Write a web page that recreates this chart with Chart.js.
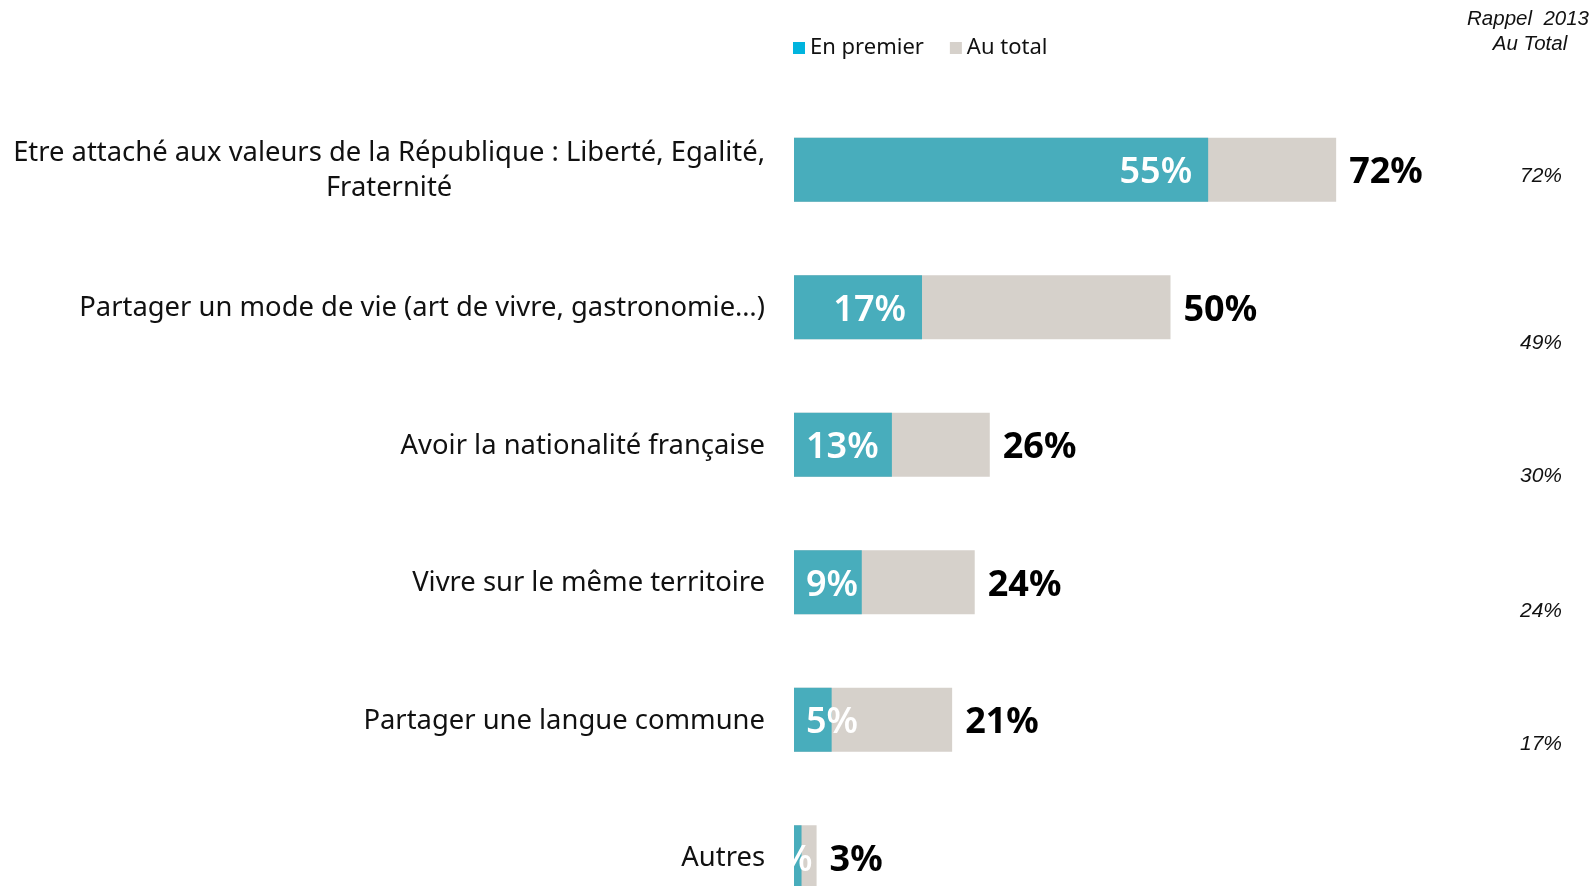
<!DOCTYPE html>
<html>
<head>
<meta charset="utf-8">
<title>Valeurs communes</title>
<script src="https://cdn.jsdelivr.net/npm/chart.js@4.4.1/dist/chart.umd.min.js"></script>
<style>
  html, body { margin: 0; padding: 0; background: #fff; overflow: hidden; }
  #wrap { position: relative; width: 1596px; height: 940px; }
</style>
</head>
<body>
<div id="wrap"><canvas id="chart"></canvas></div>
<script>
'use strict';
// data
var categories = [
  ['Etre attaché aux valeurs de la République : Liberté, Egalité,', 'Fraternité'],
  'Partager un mode de vie (art de vivre, gastronomie…)',
  'Avoir la nationalité française',
  'Vivre sur le même territoire',
  'Partager une langue commune',
  'Autres'
];
var enPremier = [55, 17, 13, 9, 5, 1];
var auTotal = [72, 50, 26, 24, 21, 3];
var rappel2013 = [72, 49, 30, 24, 17, null];
var seriesNames = ['En premier', 'Au total'];
var rappelTitle = ['Rappel  2013', 'Au Total'];

var BLUE = '#48ADBC';
var GREY = '#D6D1CB';
var LEGEND_BLUE = '#00B4DE';
var FONT = '"Noto Sans", "Open Sans", sans-serif';

// category labels drawn left of the bars, multi-line ones centred on themselves
var categoryLabels = {
  id: 'categoryLabels',
  afterDraw: function(chart) {
    var ctx = chart.ctx;
    var yScale = chart.scales.y;
    var right = chart.chartArea.left - 29;
    ctx.save();
    ctx.font = '27.4px ' + FONT;
    ctx.fillStyle = '#111';
    ctx.textBaseline = 'middle';
    for (var i = 0; i < categories.length; i++) {
      var lines = Array.isArray(categories[i]) ? categories[i] : [categories[i]];
      var y = yScale.getPixelForValue(i) + 1;
      var lh = 34.5;
      var maxW = 0;
      for (var j = 0; j < lines.length; j++) {
        maxW = Math.max(maxW, ctx.measureText(lines[j]).width);
      }
      ctx.textAlign = 'center';
      for (var k = 0; k < lines.length; k++) {
        ctx.fillText(lines[k], right - maxW / 2, y + (k - (lines.length - 1) / 2) * lh);
      }
    }
    ctx.restore();
  }
};

// value labels: white inside the blue bar, black after the grey one
var valueLabels = {
  id: 'valueLabels',
  afterDatasetsDraw: function(chart) {
    var ctx = chart.ctx;
    var blue = chart.getDatasetMeta(0).data;
    var grey = chart.getDatasetMeta(1).data;
    ctx.save();
    ctx.textBaseline = 'middle';
    for (var i = 0; i < blue.length; i++) {
      var b = blue[i];
      var g = grey[i];
      var top = g.y - g.height / 2;

      ctx.font = '600 36px ' + FONT;
      var txt = enPremier[i] + '%';
      var w = ctx.measureText(txt).width;
      var xr = Math.max(b.x - 16, b.base + 12 + w);
      if (xr > g.x) xr = g.x - 4;
      ctx.save();
      ctx.beginPath();
      ctx.rect(g.base, top, g.x - g.base, g.height);
      ctx.clip();
      ctx.fillStyle = '#fff';
      ctx.textAlign = 'right';
      ctx.fillText(txt, xr, g.y + 3);
      ctx.restore();

      ctx.font = 'bold 36px ' + FONT;
      ctx.fillStyle = '#000';
      ctx.textAlign = 'left';
      ctx.fillText(auTotal[i] + '%', g.x + 13, g.y + 3);
    }
    ctx.restore();
  }
};

// legend and the 2013 reminder column
var extras = {
  id: 'extras',
  afterDraw: function(chart) {
    var ctx = chart.ctx;
    var yScale = chart.scales.y;
    var x = chart.chartArea.left - 1;
    var colors = [LEGEND_BLUE, GREY];
    ctx.save();
    ctx.font = '22px ' + FONT;
    ctx.textBaseline = 'middle';
    ctx.textAlign = 'left';
    for (var i = 0; i < seriesNames.length; i++) {
      ctx.fillStyle = colors[i];
      ctx.fillRect(x, 42, 12, 12);
      ctx.fillStyle = '#111';
      ctx.fillText(seriesNames[i], x + 17, 48);
      x += 17 + ctx.measureText(seriesNames[i]).width + 26;
    }

    ctx.font = 'italic 20.5px "Liberation Sans", Arial, sans-serif';
    ctx.textAlign = 'center';
    ctx.fillStyle = '#111';
    ctx.fillText(rappelTitle[0], 1528, 19);
    ctx.fillText(rappelTitle[1], 1530, 44);

    var shift = [4, 34, 29, 27, 22, 22];
    ctx.font = 'italic 21px "Liberation Sans", Arial, sans-serif';
    ctx.textAlign = 'right';
    for (var j = 0; j < rappel2013.length; j++) {
      if (rappel2013[j] === null) continue;
      ctx.fillText(rappel2013[j] + '%', 1562, yScale.getPixelForValue(j) + shift[j] + 2);
    }
    ctx.restore();
  }
};

var ctx = document.getElementById('chart').getContext('2d');
new Chart(ctx, {
  type: 'bar',
  data: {
    labels: categories,
    datasets: [
      {
        label: seriesNames[0],
        data: enPremier,
        backgroundColor: BLUE,
        grouped: false,
        barPercentage: 0.465,
        categoryPercentage: 1
      },
      {
        label: seriesNames[1],
        data: auTotal,
        backgroundColor: GREY,
        grouped: false,
        barPercentage: 0.465,
        categoryPercentage: 1
      }
    ]
  },
  options: {
    indexAxis: 'y',
    responsive: true,
    maintainAspectRatio: false,
    animation: false,
    layout: {
      padding: { left: 794, right: 49, top: 101, bottom: 14 }
    },
    scales: {
      x: { display: false, min: 0, max: 100 },
      y: { display: false }
    },
    plugins: {
      legend: { display: false },
      tooltip: { enabled: false }
    }
  },
  plugins: [categoryLabels, valueLabels, extras]
});
</script>
</body>
</html>
